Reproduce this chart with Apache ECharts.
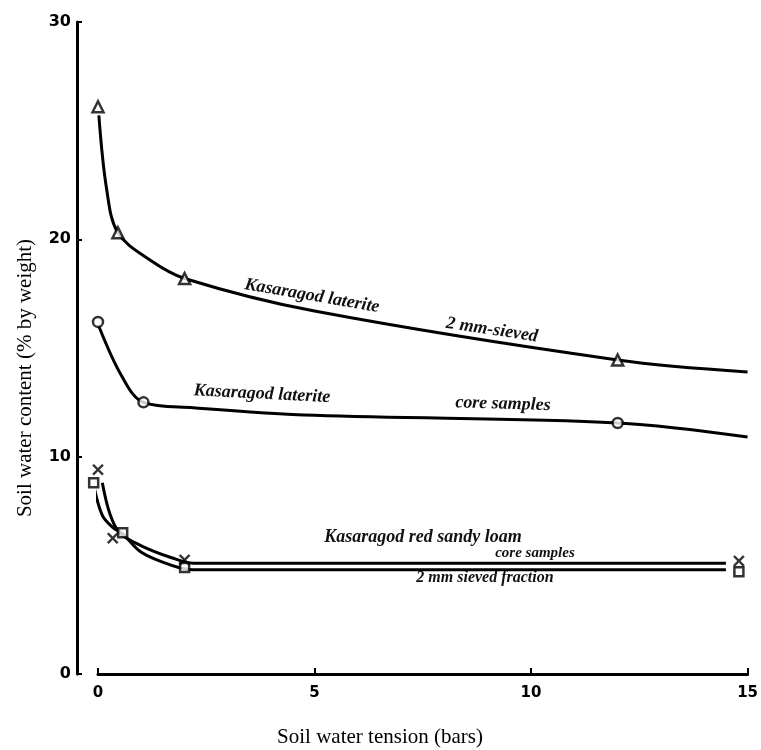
<!DOCTYPE html>
<html>
<head>
<meta charset="utf-8">
<script src="https://cdn.jsdelivr.net/npm/echarts@6/dist/echarts.min.js"></script>
<style>
  html, body { margin: 0; padding: 0; background: #fff; }
  #chart { width: 761px; height: 750px; }
</style>
</head>
<body>
<div id="chart"></div>
<script>
// tick labels
const xTicks = [0, 5, 10, 15];
const yTicks = [0, 10, 20, 30];

// Kasaragod laterite, 2 mm sieved (triangles)
const latSievedPts = [[0, 26.1], [0.46, 20.3], [2, 18.2], [12, 14.45]];
const latSievedLine = [[0.02, 25.7], [0.2, 22.3], [0.46, 20.3], [1.2, 19.05], [2, 18.2],
  [5, 16.7], [12, 14.45], [15, 13.9]];

// Kasaragod laterite, core samples (circles)
const latCorePts = [[0, 16.2], [1.05, 12.5], [12, 11.55]];
const latCoreLine = [[0.02, 16.0], [0.55, 13.7], [1.05, 12.5], [2.2, 12.25], [5, 11.9],
  [12, 11.55], [15, 10.9]];

// Kasaragod red sandy loam, core samples (stars)
const loamCoreLine = [[0.1, 8.8], [0.27, 7.4], [0.5, 6.5], [1.0, 5.9], [1.7, 5.35],
  [2.2, 5.1], [14.5, 5.1]];
const loamCorePts = [[0, 9.4], [0.34, 6.25], [2, 5.25], [14.8, 5.2]];

// Kasaragod red sandy loam, 2 mm sieved fraction (squares)
const loamSievedPts = [[-0.1, 8.8], [0.57, 6.5], [2, 4.9], [14.8, 4.7]];
const loamSievedLine = [[-0.1, 8.7], [0.1, 7.3], [0.34, 6.75], [0.57, 6.45], [1.0, 5.6],
  [1.7, 5.0], [2.2, 4.8], [14.5, 4.8]];

const chart = echarts.init(document.getElementById('chart'));

const hand = {
  fontFamily: 'Liberation Serif',
  fontStyle: 'italic',
  fontWeight: 'bold',
  fill: '#111'
};

const curve = (data) => ({
  type: 'line',
  data: data,
  showSymbol: false,
  smooth: 0.35,
  clip: false,
  lineStyle: { color: '#000', width: 3 },
  z: 2
});

const marks = (data, symbol, size) => ({
  type: 'scatter',
  data: data,
  symbol: symbol,
  symbolSize: size,
  clip: false,
  itemStyle: { color: '#fff', borderColor: '#000', borderWidth: 2.5 },
  z: 3
});

const option = {
  backgroundColor: '#fff',
  animation: false,
  grid: { left: 98, right: 6, top: 22, bottom: 76 },
  xAxis: {
    type: 'value',
    min: xTicks[0],
    max: xTicks[xTicks.length - 1],
    interval: 5,
    axisLine: { onZero: false, lineStyle: { color: '#000', width: 3 } },
    axisTick: { inside: true, length: 6, lineStyle: { color: '#000', width: 2 } },
    axisLabel: {
      margin: 12,
      color: '#000',
      fontFamily: 'DejaVu Sans',
      fontWeight: 'bold',
      fontSize: 15
    },
    splitLine: { show: false }
  },
  yAxis: {
    type: 'value',
    min: yTicks[0],
    max: yTicks[yTicks.length - 1],
    interval: 10,
    offset: 21,
    axisLine: { show: true, onZero: false, lineStyle: { color: '#000', width: 3 } },
    axisTick: { show: true, inside: true, length: 5, lineStyle: { color: '#000', width: 2 } },
    axisLabel: {
      margin: 6,
      color: '#000',
      fontFamily: 'DejaVu Sans',
      fontWeight: 'bold',
      fontSize: 16
    },
    splitLine: { show: false }
  },
  graphic: [
    {
      type: 'text', x: 25, y: 378, rotation: Math.PI / 2,
      style: { text: 'Soil water content (% by weight)', fontFamily: 'Liberation Serif',
        fontSize: 21, fill: '#000', align: 'center', verticalAlign: 'middle' }
    },
    {
      type: 'text', x: 380, y: 737,
      style: { text: 'Soil water tension (bars)', fontFamily: 'Liberation Serif',
        fontSize: 21, fill: '#000', align: 'center', verticalAlign: 'middle' }
    },
    { type: 'text', x: 312, y: 296, rotation: -0.17,
      style: Object.assign({ text: 'Kasaragod laterite', fontSize: 18, align: 'center', verticalAlign: 'middle' }, hand) },
    { type: 'text', x: 492, y: 330, rotation: -0.15,
      style: Object.assign({ text: '2 mm-sieved', fontSize: 18, align: 'center', verticalAlign: 'middle' }, hand) },
    { type: 'text', x: 262, y: 394, rotation: -0.05,
      style: Object.assign({ text: 'Kasaragod laterite', fontSize: 18, align: 'center', verticalAlign: 'middle' }, hand) },
    { type: 'text', x: 503, y: 404, rotation: -0.03,
      style: Object.assign({ text: 'core samples', fontSize: 18, align: 'center', verticalAlign: 'middle' }, hand) },
    { type: 'text', x: 423, y: 537,
      style: Object.assign({ text: 'Kasaragod red sandy loam', fontSize: 18, align: 'center', verticalAlign: 'middle' }, hand) },
    { type: 'text', x: 535, y: 553,
      style: Object.assign({ text: 'core samples', fontSize: 15, align: 'center', verticalAlign: 'middle' }, hand) },
    { type: 'text', x: 485, y: 578,
      style: Object.assign({ text: '2 mm sieved fraction', fontSize: 16, align: 'center', verticalAlign: 'middle' }, hand) }
  ],
  series: [
    curve(latSievedLine),
    curve(latCoreLine),
    curve(loamCoreLine),
    curve(loamSievedLine),
    marks(latSievedPts, 'triangle', 11),
    marks(latCorePts, 'circle', 10),
    marks(loamSievedPts, 'rect', 9),
    Object.assign(marks(loamCorePts, 'path://M0,1 L1,0 L4,3 L7,0 L8,1 L5,4 L8,7 L7,8 L4,5 L1,8 L0,7 L3,4 Z', 11),
      { itemStyle: { color: '#000', borderColor: '#000', borderWidth: 0.5 } })
  ]
};

chart.setOption(option);
</script>
</body>
</html>
